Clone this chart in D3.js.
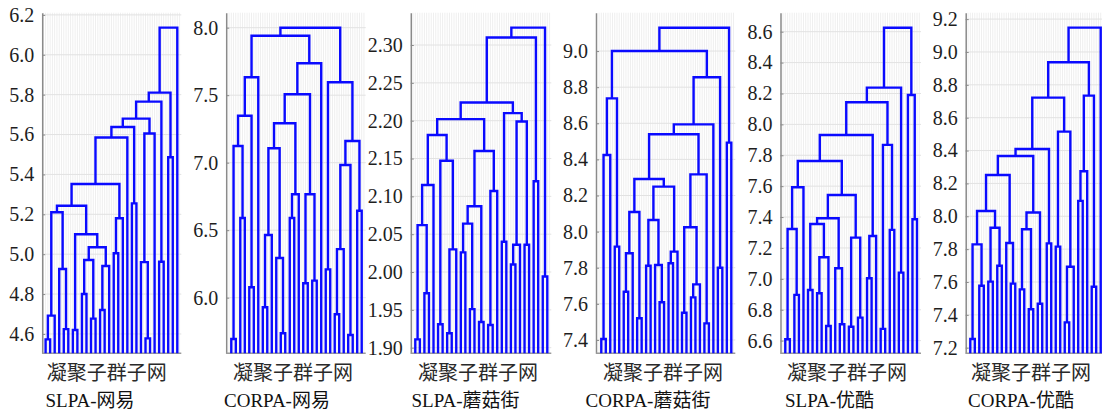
<!DOCTYPE html>
<html><head><meta charset="utf-8">
<script src="https://cdn.jsdelivr.net/npm/d3@7"></script>
<style>body{margin:0;background:#fff}svg{display:block}</style>
</head><body>
<svg id="c" width="1102" height="412"></svg>
<script>
// ---------- data ----------
const xLabel = "凝聚子群子网";
const titles = ["SLPA-网易", "CORPA-网易", "SLPA-蘑菇街", "CORPA-蘑菇街", "SLPA-优酷", "CORPA-优酷"];
const leafCount = 30;

const ticks1 = [4.6, 4.8, 5.0, 5.2, 5.4, 5.6, 5.8, 6.0, 6.2];
const ticks2 = [6.0, 6.5, 7.0, 7.5, 8.0];
const ticks3 = [1.90, 1.95, 2.00, 2.05, 2.10, 2.15, 2.20, 2.25, 2.30];
const ticks4 = [7.4, 7.6, 7.8, 8.0, 8.2, 8.4, 8.6, 8.8, 9.0];
const ticks5 = [6.6, 6.8, 7.0, 7.2, 7.4, 7.6, 7.8, 8.0, 8.2, 8.4, 8.6];
const ticks6 = [7.2, 7.4, 7.6, 7.8, 8.0, 8.2, 8.4, 8.6, 8.8, 9.0, 9.2];

// linkage: [left, right, height]; leaves 0..29, merge i becomes node 30+i
const links1 = [
  [0,1,4.573],[30,2,4.692],[4,5,4.624],[3,32,4.926],[31,33,5.210],
  [6,7,4.620],[8,9,4.800],[10,11,4.677],[36,37,4.971],[12,13,4.720],
  [39,14,4.941],[38,40,5.035],[35,41,5.100],[34,42,5.243],[15,16,5.005],
  [44,17,5.180],[43,45,5.352],[46,18,5.585],[19,20,5.255],[47,48,5.638],
  [22,23,4.578],[21,50,4.960],[51,24,5.605],[49,52,5.680],[25,26,4.962],
  [53,54,5.765],[27,28,5.486],[55,56,5.810],[57,29,6.136]
];
const links2 = [
  [0,1,5.694],[2,3,6.590],[30,31,7.124],[4,5,6.077],[32,33,7.348],
  [34,6,7.633],[7,8,5.929],[36,9,6.464],[11,12,5.736],[10,38,6.294],
  [37,39,7.107],[13,14,6.590],[41,15,6.766],[40,42,7.292],[16,17,6.107],
  [18,19,6.126],[44,45,6.766],[43,46,7.507],[47,20,7.736],[35,48,7.940],
  [21,22,6.210],[23,24,5.877],[51,25,6.360],[26,27,5.724],[52,53,6.983],
  [28,29,6.644],[54,55,7.161],[50,56,7.596],[49,57,8.000]
];
const links3 = [
  [0,1,1.911],[2,3,1.972],[30,31,2.062],[32,4,2.115],[5,6,1.931],
  [7,8,1.919],[35,9,2.030],[34,36,2.147],[33,37,2.181],[10,11,2.026],
  [12,13,1.951],[39,40,2.064],[14,15,1.934],[41,42,2.087],[16,17,1.930],
  [44,18,2.107],[43,45,2.160],[38,46,2.202],[19,20,2.040],[21,22,2.010],
  [49,23,2.036],[24,25,2.036],[50,51,2.199],[48,52,2.210],[47,53,2.224],
  [26,27,2.120],[54,55,2.310],[28,29,1.994],[56,57,2.323]
];
const links4 = [
  [0,1,7.405],[30,2,8.424],[3,4,7.917],[31,32,8.738],[5,6,7.667],
  [34,7,7.880],[8,9,7.520],[35,36,8.109],[10,11,7.811],[13,14,7.609],
  [12,39,7.815],[38,40,8.064],[15,16,7.825],[42,17,7.889],[41,43,8.249],
  [37,44,8.291],[18,19,7.551],[20,21,7.636],[47,22,7.708],[46,48,8.024],
  [23,24,7.492],[49,50,8.317],[45,51,8.539],[52,25,8.594],[26,27,7.800],
  [53,54,8.855],[33,55,9.000],[28,29,8.493],[56,57,9.129]
];
const links5 = [
  [0,1,6.609],[2,3,6.896],[30,31,7.323],[32,4,7.593],[5,6,6.928],
  [7,8,6.907],[9,10,6.695],[35,36,7.140],[34,37,7.355],[12,13,6.706],
  [11,39,7.069],[38,40,7.392],[14,15,6.690],[16,17,6.749],[42,43,7.267],
  [41,44,7.543],[33,45,7.763],[18,19,7.004],[47,20,7.277],[46,48,7.931],
  [21,22,6.676],[23,24,7.317],[50,51,7.867],[49,52,8.143],[25,26,7.040],
  [53,54,8.238],[28,29,7.386],[27,56,8.190],[55,57,8.626]
];
const links6 = [
  [0,1,7.253],[2,3,7.577],[30,31,7.829],[4,5,7.602],[6,7,7.699],
  [33,34,7.930],[32,35,8.032],[9,10,7.590],[8,37,7.837],[36,38,8.251],
  [11,12,7.555],[13,14,7.434],[40,41,7.921],[15,16,7.468],[42,43,8.023],
  [39,44,8.367],[17,18,7.835],[45,46,8.409],[19,20,7.815],[21,22,7.354],
  [49,23,7.693],[48,50,8.515],[47,51,8.722],[24,25,8.094],[53,26,8.274],
  [27,28,7.571],[54,55,8.734],[52,56,8.937],[57,29,9.148]
];

// ---------- layout ----------
const Y_BOTTOM = 353.3, Y_TOP = 12.7;
const panels = [
  {links: links1, ticks: ticks1, fmt: ".1f", dom: [4.503, 6.211], ax: 42.2, x0: 45.6, x1: 177.3, labelX: 106.7, titleX: 45.5},
  {links: links2, ticks: ticks2, fmt: ".1f", dom: [5.588, 8.111], ax: 226.2, x0: 231.3, x1: 361.7, labelX: 293, titleX: 224},
  {links: links3, ticks: ticks3, fmt: ".2f", dom: [1.8926, 2.3427], ax: 410.8, x0: 415.3, x1: 547.3, labelX: 478, titleX: 411.5},
  {links: links4, ticks: ticks4, fmt: ".1f", dom: [7.326, 9.2125], ax: 596, x0: 601.3, x1: 731.3, labelX: 663, titleX: 585.5},
  {links: links5, ticks: ticks5, fmt: ".1f", dom: [6.518, 8.723], ax: 780.5, x0: 785.3, x1: 917, labelX: 847, titleX: 785},
  {links: links6, ticks: ticks6, fmt: ".1f", dom: [7.166, 9.239], ax: 965.7, x0: 970.3, x1: 1100.7, labelX: 1031, titleX: 968}
];

const svg = d3.select("#c");
const serif = "'Liberation Serif','Times New Roman',serif";
const cjk = "'Liberation Serif','Noto Sans CJK SC',serif";

panels.forEach((p, pi) => {
  const g = svg.append("g");
  const x = d3.scalePoint().domain(d3.range(leafCount)).range([p.x0, p.x1]);
  const y = d3.scaleLinear().domain(p.dom).range([Y_BOTTOM, Y_TOP]);
  const right = Math.min(1102, p.x1 + 4);

  // faint vertical grid
  const half = x.step() / 2;
  const vgrid = d3.range(p.x0 - half, right, half);
  g.append("g").selectAll("line").data(vgrid).join("line")
    .attr("x1", d => d).attr("x2", d => d)
    .attr("y1", Y_TOP).attr("y2", Y_BOTTOM)
    .attr("stroke", "#efefef").attr("stroke-width", 1);

  // horizontal grid
  g.append("g").selectAll("line").data(p.ticks).join("line")
    .attr("x1", p.ax).attr("x2", right)
    .attr("y1", d => y(d)).attr("y2", d => y(d))
    .attr("stroke", "#e2e2e2").attr("stroke-width", 1);

  // axis
  const axis = d3.axisLeft(y).tickValues(p.ticks).tickFormat(d3.format(p.fmt))
    .tickSizeInner(-3).tickSizeOuter(0).tickPadding(8);
  const ag = g.append("g").attr("transform", `translate(${p.ax},0)`).call(axis);
  ag.select(".domain").attr("stroke", "#8a8a8a").attr("stroke-width", 1.5);
  ag.selectAll(".tick line").attr("stroke", "#8a8a8a");
  ag.selectAll(".tick text").attr("font-family", serif).attr("font-size", 20)
    .attr("fill", "#1e1e1e");

  // bottom line
  g.append("line").attr("x1", p.ax).attr("x2", right)
    .attr("y1", Y_BOTTOM).attr("y2", Y_BOTTOM)
    .attr("stroke", "#9a9a9a").attr("stroke-width", 1.5);

  // dendrogram
  const pos = d3.range(leafCount).map(i => ({x: x(i), y: Y_BOTTOM}));
  const segs = [];
  p.links.forEach(([l, r, h]) => {
    const a = pos[l], b = pos[r], yy = y(h);
    segs.push({a, b, yy});
    pos.push({x: (a.x + b.x) / 2, y: yy});
  });
  g.append("g").selectAll("path").data(segs).join("path")
    .attr("d", s => `M${s.a.x},${s.a.y}V${s.yy}H${s.b.x}V${s.b.y}`)
    .attr("fill", "none").attr("stroke", "#0a0aff")
    .attr("stroke-width", 2.4).attr("stroke-linejoin", "miter");

  // labels
  g.append("text").attr("x", p.labelX).attr("y", 371)
    .attr("text-anchor", "middle").attr("dominant-baseline", "central")
    .attr("font-family", "'Noto Sans CJK SC',sans-serif").attr("font-size", 20)
    .attr("fill", "#2a2a2a").text(xLabel);
  g.append("text").attr("x", p.titleX).attr("y", 400)
    .attr("dominant-baseline", "central")
    .attr("font-family", cjk).attr("font-size", 19)
    .attr("fill", "#111").text(titles[pi]);
});
</script>
</body></html>
